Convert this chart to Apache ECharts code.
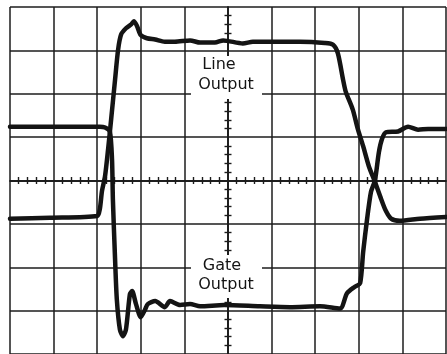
<!DOCTYPE html>
<html>
<head>
<meta charset="utf-8">
<script src="https://cdn.jsdelivr.net/npm/echarts@6/dist/echarts.min.js"></script>
<style>
  html, body { margin: 0; padding: 0; background: #fff; }
  #scope { width: 447px; height: 354px; }
</style>
</head>
<body>
<div id="scope"></div>
<script>
// Oscilloscope screen: 10 x 8 divisions, origin at screen centre.
// Trace samples in divisions (x: time, y: amplitude).
const lineOutX = [-5.0, -4.08, -3.0, -2.94, -2.89, -2.82, -2.75, -2.68, -2.59, -2.52, -2.45, -2.34,
  -2.22, -2.16, -2.09, -2.0, -1.86, -1.67, -1.45, -1.22, -0.87, -0.64, -0.30, -0.11, 0.34, 0.57,
  0.96, 1.65, 2.22, 2.41, 2.52, 2.64, 2.70, 2.86, 2.98, 3.10, 3.23, 3.37, 3.51, 3.62, 3.74, 3.94,
  4.40, 5.0];
const lineOutY = [-0.88, -0.86, -0.82, -0.66, -0.24, 0.10, 0.72, 1.41, 2.33, 3.02, 3.37, 3.51,
  3.60, 3.67, 3.57, 3.35, 3.28, 3.25, 3.20, 3.20, 3.23, 3.18, 3.18, 3.23, 3.16, 3.20,
  3.20, 3.20, 3.17, 3.13, 2.93, 2.32, 2.05, 1.64, 1.18, 0.79, 0.33, -0.03, -0.42, -0.70, -0.88, -0.93,
  -0.88, -0.84];

const gateX = [-5.0, -4.08, -2.94, -2.82, -2.71, -2.66, -2.64, -2.59, -2.55, -2.48, -2.41, -2.34,
  -2.25, -2.20, -2.11, -2.0, -1.90, -1.84, -1.67, -1.45, -1.33, -1.10, -0.87, -0.64, -0.09, 0.73,
  1.42, 2.11, 2.57, 2.73, 2.91, 3.03, 3.10, 3.19, 3.28, 3.37, 3.46, 3.53, 3.62, 3.90, 4.13,
  4.36, 4.59, 5.0];
const gateY = [1.24, 1.24, 1.24, 1.22, 1.13, 0.48, -0.44, -1.82, -2.74, -3.43, -3.59, -3.43,
  -2.62, -2.55, -2.85, -3.15, -2.97, -2.85, -2.78, -2.92, -2.78, -2.87, -2.85, -2.90, -2.87, -2.90,
  -2.92, -2.90, -2.95, -2.60, -2.45, -2.37, -1.65, -0.89, -0.26, 0.0, 0.65, 0.95, 1.11, 1.13, 1.24,
  1.17, 1.19, 1.19];

const ink = '#141414';
const gridInk = '#1c1c1c';

function pairs(xs, ys) { return xs.map((x, i) => [x, ys[i]]); }

// a value axis with the graticule or the centre-line scale
function hAxis(extra) {
  return Object.assign({
    type: 'value', min: -5, max: 5, interval: 1,
    axisLabel: { show: false }, axisTick: { show: false },
    axisLine: { show: false }, splitLine: { show: false }
  }, extra);
}
function vAxis(extra) {
  return Object.assign({
    type: 'value', min: -4, max: 4, interval: 1,
    axisLabel: { show: false }, axisTick: { show: false },
    axisLine: { show: false }, splitLine: { show: false }
  }, extra);
}
const centreLine = { show: true, onZero: true, onZeroAxisIndex: 0, lineStyle: { color: gridInk, width: 1.5 } };
const centreTicks = { show: true, splitNumber: 5, length: 3.5, lineStyle: { color: gridInk, width: 1.4 } };
const graticule = { show: true, lineStyle: { color: gridInk, width: 1.5 } };

const chart = echarts.init(document.getElementById('scope'), null, { renderer: 'canvas' });

chart.setOption({
  backgroundColor: '#ffffff',
  animation: false,
  grid: { left: 10, top: 7, width: 436, height: 349, containLabel: false, show: false },
  xAxis: [
    hAxis({ position: 'bottom', splitLine: graticule }),
    hAxis({ position: 'bottom', axisLine: centreLine, minorTick: centreTicks }),
    hAxis({ position: 'top', axisLine: centreLine, minorTick: centreTicks })
  ],
  yAxis: [
    vAxis({ position: 'left', splitLine: graticule }),
    vAxis({ position: 'left', axisLine: centreLine, minorTick: centreTicks }),
    vAxis({ position: 'right', axisLine: centreLine, minorTick: centreTicks })
  ],
  graphic: [
    { type: 'rect', z: 50, shape: { x: 191, y: 56, width: 71, height: 43 }, style: { fill: '#fff' } },
    { type: 'text', z: 51, x: 219, y: 65, style: { text: 'Line', fill: ink, font: '16px "DejaVu Sans"', textAlign: 'center', textVerticalAlign: 'middle' } },
    { type: 'text', z: 51, x: 226, y: 85, style: { text: 'Output', fill: ink, font: '16px "DejaVu Sans"', textAlign: 'center', textVerticalAlign: 'middle' } },
    { type: 'rect', z: 50, shape: { x: 191, y: 255, width: 71, height: 43 }, style: { fill: '#fff' } },
    { type: 'text', z: 51, x: 222, y: 266, style: { text: 'Gate', fill: ink, font: '16px "DejaVu Sans"', textAlign: 'center', textVerticalAlign: 'middle' } },
    { type: 'text', z: 51, x: 226, y: 285, style: { text: 'Output', fill: ink, font: '16px "DejaVu Sans"', textAlign: 'center', textVerticalAlign: 'middle' } }
  ],
  series: [
    {
      name: 'Line Output', type: 'line', xAxisIndex: 0, yAxisIndex: 0,
      data: pairs(lineOutX, lineOutY), showSymbol: false, smooth: 0.25,
      lineStyle: { color: ink, width: 4.5, cap: 'round', join: 'round' }, z: 5
    },
    {
      name: 'Gate Output', type: 'line', xAxisIndex: 0, yAxisIndex: 0,
      data: pairs(gateX, gateY), showSymbol: false, smooth: 0.25,
      lineStyle: { color: ink, width: 4.5, cap: 'round', join: 'round' }, z: 5
    }
  ]
});
</script>
</body>
</html>
